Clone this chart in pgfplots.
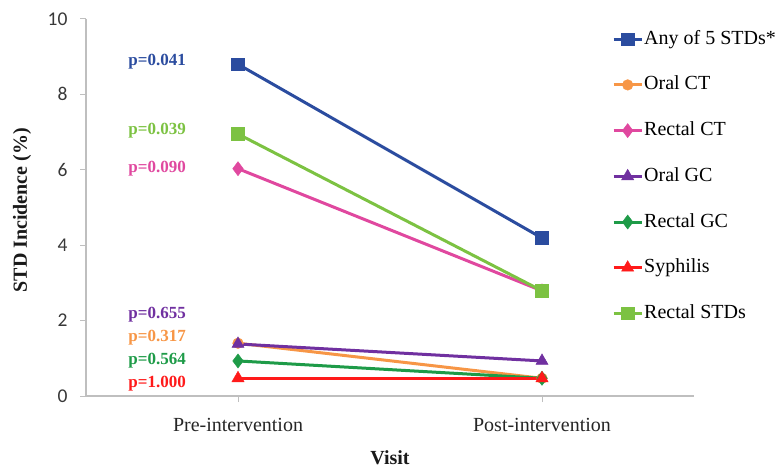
\documentclass[border=0pt]{standalone}
\usepackage{fontspec}
\setmainfont{Liberation Serif}
\newfontfamily\carlito{Carlito}
\usepackage{pgfplots}
\pgfplotsset{compat=1.18}
\definecolor{cAny}{HTML}{2B4C9F}
\definecolor{cOCT}{HTML}{F79646}
\definecolor{cRCT}{HTML}{E0489F}
\definecolor{cOGC}{HTML}{7030A0}
\definecolor{cRGC}{HTML}{1E9B48}
\definecolor{cSyp}{HTML}{FF1A1A}
\definecolor{cRST}{HTML}{7CC242}
\definecolor{axgray}{HTML}{BFBFBF}
\begin{document}
\begin{tikzpicture}[x=1pt,y=1pt]
\path[use as bounding box] (0,0) rectangle (778,472);
\begin{axis}[
  at={(86pt,76pt)}, anchor=south west,
  scale only axis, width=608pt, height=377pt,
  xmin=-0.5, xmax=1.5, ymin=0, ymax=10,
  axis x line=bottom, axis y line=left,
  axis line style={draw=axgray, line width=1.2pt, -},
  xtick={0,1}, xticklabels={Pre-intervention,Post-intervention},
  ytick={0,2,4,6,8,10},
  tick style={draw=axgray, line width=1pt},
  major tick length=6pt, tick align=outside,
  /pgf/number format/assume math mode=true,
  yticklabel style={font=\carlito\fontsize{19.5}{19.5}\selectfont, text=black!78, xshift=-9pt},
  xticklabel style={font=\fontsize{20}{20}\selectfont, text=black!85, yshift=-13pt},
  xlabel={\bfseries Visit}, ylabel={\bfseries STD Incidence (\%)},
  label style={font=\fontsize{20}{20}\selectfont, text=black!90},
  xlabel style={at={(axis description cs:0.5,-0.165)}, anchor=center},
  ylabel style={at={(axis description cs:-0.105,0.493)}, anchor=center},
  legend cell align=left,
  legend style={at={(axis description cs:0.8651,0.9708)}, anchor=north west,
    draw=none, fill=none, inner sep=0pt, row sep=27.7pt, column sep=1pt,
    font=\fontsize{20}{20}\selectfont,
    nodes={inner sep=0pt, text height=14pt, text depth=4pt}},
  legend image code/.code={\draw[mark repeat=2,mark phase=2,#1] plot coordinates {(0pt,0pt) (14pt,0pt) (28pt,0pt)};},
  every axis plot/.append style={line width=3pt, mark options={solid, line width=0.5pt}},
  clip=false,
]
\addplot[color=cAny, mark=square*, mark size=6.3pt] coordinates {(0,8.80) (1,4.19)};
\addlegendentry{Any of 5 STDs*}
\addplot[color=cOCT, mark=*, mark size=5.3pt] coordinates {(0,1.40) (1,0.47)};
\addlegendentry{Oral CT}
\addplot[color=cRCT, mark=diamond*, mark size=7pt] coordinates {(0,6.03) (1,2.79)};
\addlegendentry{Rectal CT}
\addplot[color=cOGC, mark=triangle*, mark size=7pt] coordinates {(0,1.38) (1,0.93)};
\addlegendentry{Oral GC}
\addplot[color=cRGC, mark=diamond*, mark size=7pt] coordinates {(0,0.93) (1,0.47)};
\addlegendentry{Rectal GC}
\addplot[color=cSyp, mark=triangle*, mark size=7pt] coordinates {(0,0.47) (1,0.47)};
\addlegendentry{Syphilis}
\addplot[color=cRST, mark=square*, mark size=6.3pt] coordinates {(0,6.95) (1,2.79)};
\addlegendentry{Rectal STDs}
\begin{scope}[every node/.style={font=\bfseries\fontsize{17}{17}\selectfont, anchor=center}]
\node[text=cAny] at (axis cs:-0.266,8.86) {p=0.041};
\node[text=cRST] at (axis cs:-0.266,7.03) {p=0.039};
\node[text=cRCT] at (axis cs:-0.266,6.02) {p=0.090};
\node[text=cOGC] at (axis cs:-0.266,2.15) {p=0.655};
\node[text=cOCT] at (axis cs:-0.266,1.56) {p=0.317};
\node[text=cRGC] at (axis cs:-0.266,0.95) {p=0.564};
\node[text=cSyp] at (axis cs:-0.266,0.34) {p=1.000};
\end{scope}
\end{axis}
\end{tikzpicture}
\end{document}
